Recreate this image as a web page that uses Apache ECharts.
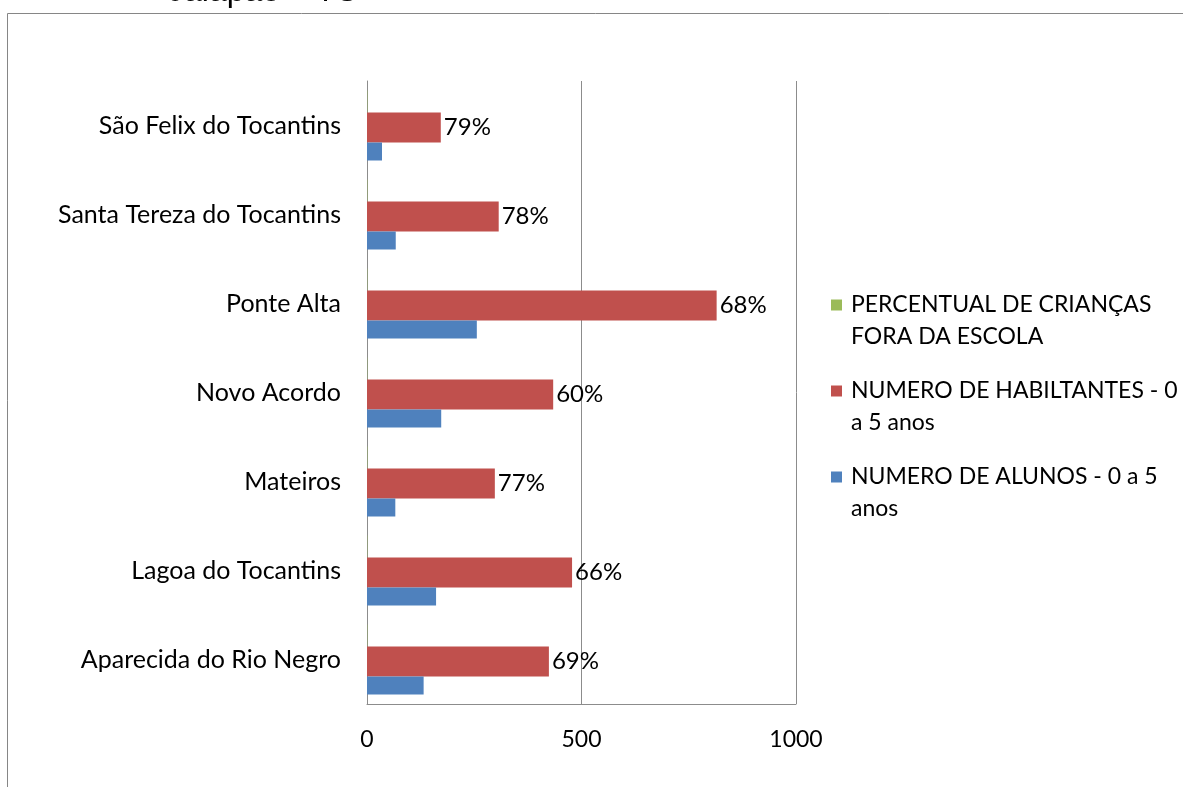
<!DOCTYPE html>
<html>
<head>
<meta charset="utf-8">
<script src="https://cdn.jsdelivr.net/npm/echarts@6/dist/echarts.min.js"></script>
<style>
    html, body { margin: 0; padding: 0; background: #fff; }
    #chartBg { width: 1183px; height: 787px; }
</style>
</head>
<body>
<div id="chartBg"></div>
<script>
// municipios, bottom to top (as the category axis draws them)
var cidades = ['Aparecida do Rio Negro', 'Lagoa do Tocantins', 'Mateiros', 'Novo Acordo',
    'Ponte Alta', 'Santa Tereza do Tocantins', 'São Felix do Tocantins'];
var alunos = [132, 161, 66, 173, 256, 67, 35];          // NUMERO DE ALUNOS - 0 a 5 anos
var habitantes = [424, 478, 298, 434, 815, 307, 172];   // NUMERO DE HABILTANTES - 0 a 5 anos
var percentual = [0.69, 0.66, 0.77, 0.60, 0.68, 0.78, 0.79]; // PERCENTUAL DE CRIANÇAS FORA DA ESCOLA
var xTicks = [0, 500, 1000];

var nomeAlunos = 'NUMERO DE ALUNOS - 0 a 5 anos';
var nomeHab = 'NUMERO DE HABILTANTES - 0 a 5 anos';
var nomePerc = 'PERCENTUAL DE CRIANÇAS FORA DA ESCOLA';

var fonte = 'Lato';
var corGrade = '#8c8c8c';

var dom = document.getElementById('chartBg');
var myChart = echarts.init(dom);
var option = null;

// legend names wrap like the original (first line next to the square)
var legendaQuebra = {};
legendaQuebra[nomePerc] = '\nPERCENTUAL DE CRIANÇAS\nFORA DA ESCOLA';
legendaQuebra[nomeHab] = '\nNUMERO DE HABILTANTES - 0\na 5 anos';
legendaQuebra[nomeAlunos] = '\nNUMERO DE ALUNOS - 0 a 5\nanos';

option = {
    animation: false,
    title: {
        text: 'Jalapão – TO',
        left: 168,
        top: -24,
        padding: 0,
        textStyle: {
            fontFamily: 'Liberation Sans',
            fontSize: 32,
            fontWeight: 'normal',
            color: '#000'
        }
    },
    graphic: [{
        type: 'rect',
        shape: {x: 7.5, y: 13.5, width: 1300, height: 900},
        style: {fill: null, stroke: '#868686', lineWidth: 1},
        silent: true
    }],
    legend: {
        orient: 'vertical',
        left: 831,
        top: 257,
        padding: 0,
        itemGap: -10,
        itemWidth: 11,
        itemHeight: 11,
        icon: 'rect',
        data: [nomePerc, nomeHab, nomeAlunos],
        formatter: function (name) {
            return legendaQuebra[name];
        },
        textStyle: {
            fontFamily: fonte,
            fontSize: 23,
            lineHeight: 32,
            color: '#000',
            padding: [0, 0, 0, 4]
        }
    },
    grid: {
        left: 367,
        right: 387,
        top: 81,
        bottom: 83,
        containLabel: false
    },
    xAxis: {
        type: 'value',
        min: xTicks[0],
        max: xTicks[xTicks.length - 1],
        interval: xTicks[1] - xTicks[0],
        axisLine: {show: true, lineStyle: {color: corGrade}},
        axisTick: {show: false},
        splitLine: {show: true, lineStyle: {color: corGrade, type: 'solid'}},
        axisLabel: {
            margin: 24,
            fontFamily: fonte,
            fontSize: 23,
            color: '#000',
            formatter: function (v) {
                return '' + v;
            }
        }
    },
    yAxis: {
        type: 'category',
        data: cidades,
        axisLine: {show: true, lineStyle: {color: corGrade}},
        axisTick: {show: false},
        axisLabel: {
            margin: 26,
            fontFamily: fonte,
            fontSize: 25,
            color: '#000'
        }
    },
    // horizontal bars: first series is drawn on top of the group
    series: [
        {
            name: nomePerc,
            type: 'bar',
            data: percentual,
            barWidth: 22,
            barGap: 0,
            itemStyle: {color: '#9BBB59'}
        },
        {
            name: nomeHab,
            type: 'bar',
            data: habitantes,
            barWidth: 30,
            barGap: 0,
            itemStyle: {color: '#C0504D'},
            label: {
                show: true,
                position: 'right',
                distance: 3,
                fontFamily: fonte,
                fontSize: 24,
                color: '#000',
                formatter: function (p) {
                    return Math.round(percentual[p.dataIndex] * 100) + '%';
                }
            }
        },
        {
            name: nomeAlunos,
            type: 'bar',
            data: alunos,
            barWidth: 18,
            barGap: 0,
            itemStyle: {color: '#4F81BD'}
        }
    ]
};

if (option && typeof option === "object") {
    myChart.setOption(option, true);
}
</script>
</body>
</html>
